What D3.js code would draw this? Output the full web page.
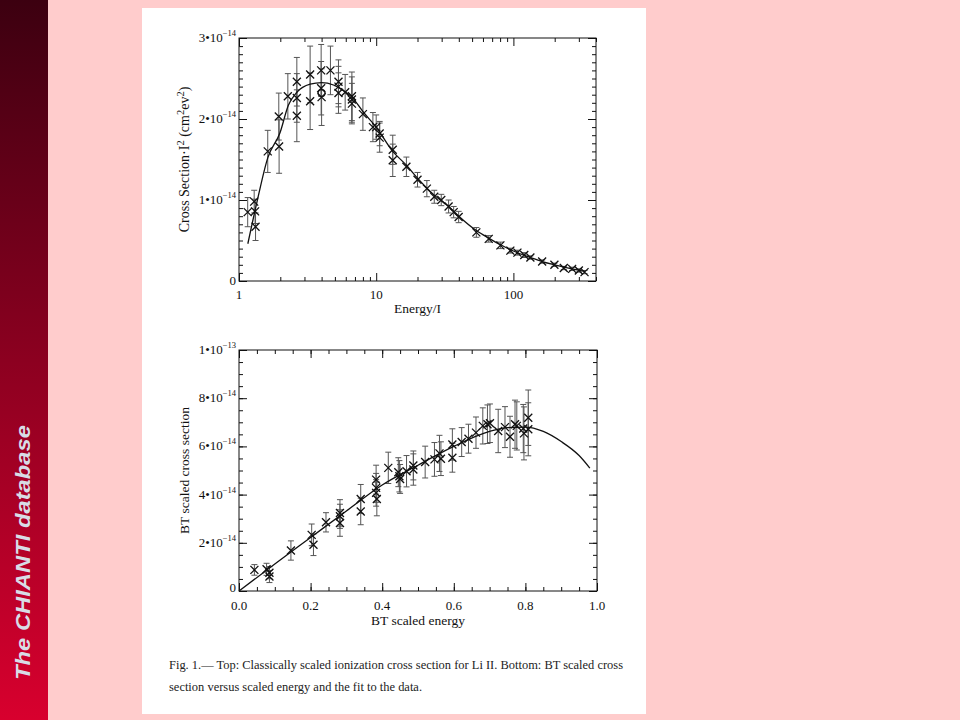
<!DOCTYPE html>
<html><head><meta charset="utf-8">
<script src="https://cdn.jsdelivr.net/npm/d3@7"></script>
<style>body{margin:0;background:#ffcccc}svg{display:block}</style>
</head><body>
<script>
// ---------- DATA ----------
// Top panel: classically scaled cross section (units of 1e-14 cm^2 eV^2)
const topEnergy = [1.157,1.29,1.31,1.32,1.62,1.95,1.96,2.27,2.64,2.64,2.64,3.30,3.30,3.97,3.97,4.0,4.64,5.31,5.31,5.31,5.94,6.65,6.65,6.65,8.0,9.46,10.0,10.6,10.6,13.2,13.2,16.6,20.0,23.4,26.5,29.8,33.7,36.7,39.9,53.7,66.1,80.4,95,107,120,133,162,199,233,268,300,330];
const topSigma  = [0.85,0.98,0.86,0.67,1.60,2.03,1.66,2.28,2.46,2.26,2.04,2.55,2.22,2.60,2.38,2.27,2.60,2.46,2.40,2.32,2.33,2.28,2.24,2.19,2.06,1.90,1.90,1.77,1.82,1.62,1.49,1.41,1.25,1.14,1.04,1.00,0.92,0.85,0.79,0.60,0.52,0.44,0.375,0.35,0.32,0.29,0.24,0.20,0.16,0.15,0.13,0.11];
const topErr    = [0.18,0.14,0.15,0.17,0.26,0.29,0.33,0.28,0.30,0.30,0.32,0.35,0.35,0.32,0.33,0.35,0.30,0.27,0.25,0.25,0.22,0.30,0.28,0.25,0.20,0.18,0.15,0.18,0.15,0.18,0.20,0.12,0.09,0.10,0.08,0.07,0.08,0.07,0.07,0.06,0.04,0.04,0.03,0.03,0.03,0.02,0.02,0.02,0.02,0.02,0.02,0.02];
const topCircleE = [4.0];
const topCircleS = [2.32];
const topFitE = [1.16,1.35,1.62,1.99,2.29,2.64,3.30,4.0,4.88,5.77,6.65,8.1,10,13.2,16.6,20,26.5,33.7,40,54,66,80,100,133,162,200,268,330];
const topFitS = [0.46,0.97,1.52,1.83,2.17,2.33,2.43,2.45,2.42,2.35,2.27,2.08,1.90,1.60,1.43,1.27,1.06,0.92,0.80,0.62,0.53,0.45,0.37,0.29,0.24,0.20,0.15,0.12];
const topXMajor = [1,10,100];
const topXMinor = [2,3,4,5,6,7,8,9,20,30,40,50,60,70,80,90,200,300,400];
const topXLabels = ["1","10","100"];
const topYMajor = [0,1,2,3];
const topYLabels = [["0",""],["1•10","−14"],["2•10","−14"],["3•10","−14"]];

// Bottom panel: BT scaled cross section (units of 1e-14)
const btX   = [0.043,0.077,0.085,0.085,0.145,0.203,0.208,0.243,0.282,0.282,0.282,0.34,0.34,0.383,0.383,0.385,0.383,0.417,0.445,0.448,0.45,0.468,0.487,0.487,0.52,0.546,0.56,0.564,0.596,0.596,0.622,0.641,0.662,0.681,0.694,0.701,0.724,0.743,0.757,0.771,0.776,0.794,0.796,0.808,0.808];
const btY   = [0.875,0.90,0.76,0.60,1.68,2.33,1.92,2.85,3.24,3.10,2.82,3.82,3.30,4.28,4.07,3.82,4.62,5.11,4.93,4.76,4.65,4.97,5.21,5.04,5.35,5.46,5.71,5.49,6.08,5.53,6.18,6.32,6.57,6.85,6.92,6.96,6.64,6.80,6.40,6.92,6.85,6.74,6.54,7.19,6.71];
const btErr = [0.22,0.25,0.25,0.25,0.40,0.45,0.45,0.40,0.55,0.50,0.55,0.60,0.55,0.60,0.55,0.70,0.60,0.65,0.60,0.65,0.60,0.65,0.60,0.65,0.66,0.70,0.75,0.70,0.65,0.60,0.60,0.60,0.65,0.75,0.80,0.80,0.90,0.85,0.85,1.00,1.00,1.00,1.10,1.15,1.10];
const btFitX = [0,0.1,0.2,0.3,0.4,0.5,0.6,0.7,0.75,0.8,0.85,0.9,0.95,0.98];
const btFitY = [0,1.12,2.22,3.32,4.40,5.22,6.00,6.62,6.78,6.80,6.62,6.20,5.62,5.10];
const btXMajor = [0,0.2,0.4,0.6,0.8,1.0];
const btXLabels = ["0.0","0.2","0.4","0.6","0.8","1.0"];
const btXMinor = d3.range(0,1.0001,0.05);
const btYMajor = [0,2,4,6,8,10];
const btYLabels = [["0",""],["2•10","−14"],["4•10","−14"],["6•10","−14"],["8•10","−14"],["1•10","−13"]];
const btYMinor = d3.range(0,10.001,0.5);

// ---------- DRAW ----------
const svg = d3.select("body").append("svg").attr("width",960).attr("height",720);
const defs = svg.append("defs");
const g = defs.append("linearGradient").attr("id","side").attr("x1",0).attr("y1",0).attr("x2",0).attr("y2",1);
g.append("stop").attr("offset","0").attr("stop-color","#3c0010");
g.append("stop").attr("offset","0.5").attr("stop-color","#8c0020");
g.append("stop").attr("offset","1").attr("stop-color","#d8002e");

svg.append("rect").attr("width",960).attr("height",720).attr("fill","#ffcccc");
svg.append("rect").attr("x",0).attr("y",0).attr("width",48).attr("height",720).attr("fill","url(#side)");
svg.append("text").attr("transform","translate(30,680) rotate(-90)")
  .attr("font-family","Liberation Sans, Arial, sans-serif").attr("font-weight","bold").attr("font-style","italic")
  .attr("font-size",20).attr("fill","#d8dce6").attr("textLength",255).attr("lengthAdjust","spacingAndGlyphs")
  .text("The CHIANTI database");

svg.append("rect").attr("x",142).attr("y",8).attr("width",504).attr("height",706).attr("fill","#ffffff");

const serif = "Liberation Serif, Times New Roman, serif";
const ink = "#111";

function cross(sel, x, y, h){
  sel.append("path").attr("d",`M${x-h},${y-h}L${x+h},${y+h}M${x-h},${y+h}L${x+h},${y-h}`)
    .attr("stroke",ink).attr("stroke-width",1.3).attr("fill","none");
}
function errbar(sel, x, y1, y2){
  sel.append("path").attr("d",`M${x},${y1}L${x},${y2}M${x-3},${y1}L${x+3},${y1}M${x-3},${y2}L${x+3},${y2}`)
    .attr("stroke","#555").attr("stroke-width",1).attr("fill","none");
}
function yLabel(sel, x, y, parts){
  const t = sel.append("text").attr("x",x).attr("y",y).attr("text-anchor","end")
    .attr("font-family",serif).attr("font-size",13).attr("fill",ink);
  t.append("tspan").text(parts[0]);
  if(parts[1]) t.append("tspan").attr("dy",-6).attr("font-size",8.5).text(parts[1]);
}
function frameAxes(sel, x, y, xMaj, xMin, yMaj, yMin, x0, x1, y0, y1){
  const gA = sel.append("g");
  const mk = (axis, tr) => { const a = gA.append("g").attr("transform",tr).call(axis);
    a.select(".domain").remove(); a.selectAll("line").attr("stroke",ink); a.selectAll("text").remove(); };
  mk(d3.axisBottom(x).tickValues(xMaj).tickSize(-8).tickFormat(""), `translate(0,${y0})`);
  mk(d3.axisBottom(x).tickValues(xMin).tickSize(-4).tickFormat(""), `translate(0,${y0})`);
  mk(d3.axisTop(x).tickValues(xMaj).tickSize(-8).tickFormat(""), `translate(0,${y1})`);
  mk(d3.axisTop(x).tickValues(xMin).tickSize(-4).tickFormat(""), `translate(0,${y1})`);
  mk(d3.axisLeft(y).tickValues(yMaj).tickSize(-8).tickFormat(""), `translate(${x0},0)`);
  mk(d3.axisLeft(y).tickValues(yMin).tickSize(-4).tickFormat(""), `translate(${x0},0)`);
  mk(d3.axisRight(y).tickValues(yMaj).tickSize(-8).tickFormat(""), `translate(${x1},0)`);
  mk(d3.axisRight(y).tickValues(yMin).tickSize(-4).tickFormat(""), `translate(${x1},0)`);
  gA.append("rect").attr("x",x0).attr("y",y1).attr("width",x1-x0).attr("height",y0-y1)
    .attr("fill","none").attr("stroke",ink).attr("stroke-width",1);
}

// ---- Top panel ----
{
  const x0=239, x1=596, y0=281, y1=38;
  const x = d3.scaleLog().domain([1,400]).range([x0,x1]);
  const y = d3.scaleLinear().domain([0,3]).range([y0,y1]);
  const p = svg.append("g");
  frameAxes(p, x, y, topXMajor, topXMinor, topYMajor, d3.range(0,3.001,0.1), x0, x1, y0, y1);
  topXMajor.forEach((v,i)=> p.append("text").attr("x",x(v)).attr("y",299).attr("text-anchor","middle")
    .attr("font-family",serif).attr("font-size",13).attr("fill",ink).text(topXLabels[i]));
  topYMajor.forEach((v,i)=> yLabel(p, 236, y(v)+4, topYLabels[i]));
  p.append("text").attr("x",(x0+x1)/2).attr("y",313).attr("text-anchor","middle")
    .attr("font-family",serif).attr("font-size",13.5).attr("fill",ink).text("Energy/I");
  const yt = p.append("text").attr("transform",`translate(189,${(y0+y1)/2}) rotate(-90)`).attr("text-anchor","middle")
    .attr("font-family",serif).attr("font-size",14).attr("fill",ink);
  yt.append("tspan").text("Cross Section·I");
  yt.append("tspan").attr("dy",-5).attr("font-size",10.5).text("2");
  yt.append("tspan").attr("dy",5).text(" (cm");
  yt.append("tspan").attr("dy",-5).attr("font-size",10.5).text("2");
  yt.append("tspan").attr("dy",5).text("ev");
  yt.append("tspan").attr("dy",-5).attr("font-size",10.5).text("2");
  yt.append("tspan").attr("dy",5).text(")");

  topEnergy.forEach((e,i)=> errbar(p, x(e), y(topSigma[i]+topErr[i]), y(topSigma[i]-topErr[i])));
  p.append("path").datum(d3.zip(topFitE, topFitS))
    .attr("d", d3.line().x(d=>x(d[0])).y(d=>y(d[1])).curve(d3.curveMonotoneX))
    .attr("fill","none").attr("stroke",ink).attr("stroke-width",1.3);
  topEnergy.forEach((e,i)=> cross(p, x(e), y(topSigma[i]), 4));
  topCircleE.forEach((e,i)=> p.append("circle").attr("cx",x(e)).attr("cy",y(topCircleS[i])).attr("r",3.5)
    .attr("fill","none").attr("stroke",ink).attr("stroke-width",1.2));
}

// ---- Bottom panel ----
{
  const x0=239, x1=597, y0=591, y1=350;
  const x = d3.scaleLinear().domain([0,1]).range([x0,x1]);
  const y = d3.scaleLinear().domain([0,10]).range([y0,y1]);
  const p = svg.append("g");
  frameAxes(p, x, y, btXMajor, btXMinor, btYMajor, btYMinor, x0, x1, y0, y1);
  btXMajor.forEach((v,i)=> p.append("text").attr("x",x(v)).attr("y",610).attr("text-anchor","middle")
    .attr("font-family",serif).attr("font-size",13).attr("fill",ink).text(btXLabels[i]));
  btYMajor.forEach((v,i)=> yLabel(p, 236, y(v)+(v===0?1:4), btYLabels[i]));
  p.append("text").attr("x",(x0+x1)/2).attr("y",625).attr("text-anchor","middle")
    .attr("font-family",serif).attr("font-size",13.5).attr("fill",ink).text("BT scaled energy");
  p.append("text").attr("transform",`translate(189,${(y0+y1)/2}) rotate(-90)`).attr("text-anchor","middle")
    .attr("font-family",serif).attr("font-size",13.5).attr("fill",ink).text("BT scaled cross section");

  btX.forEach((v,i)=> errbar(p, x(v), y(btY[i]+btErr[i]), y(btY[i]-btErr[i])));
  p.append("path").datum(d3.zip(btFitX, btFitY))
    .attr("d", d3.line().x(d=>x(d[0])).y(d=>y(d[1])).curve(d3.curveMonotoneX))
    .attr("fill","none").attr("stroke",ink).attr("stroke-width",1.3);
  btX.forEach((v,i)=> cross(p, x(v), y(btY[i]), 4));
}

// ---- Caption ----
const cap = svg.append("g").attr("font-family",serif).attr("font-size",11.5).attr("fill","#222");
cap.append("text").attr("x",169).attr("y",669).attr("textLength",454).attr("lengthAdjust","spacingAndGlyphs")
  .text("Fig. 1.— Top: Classically scaled ionization cross section for Li II. Bottom: BT scaled cross");
cap.append("text").attr("x",169).attr("y",691).attr("textLength",253).attr("lengthAdjust","spacingAndGlyphs")
  .text("section versus scaled energy and the fit to the data.");
</script>
</body></html>
